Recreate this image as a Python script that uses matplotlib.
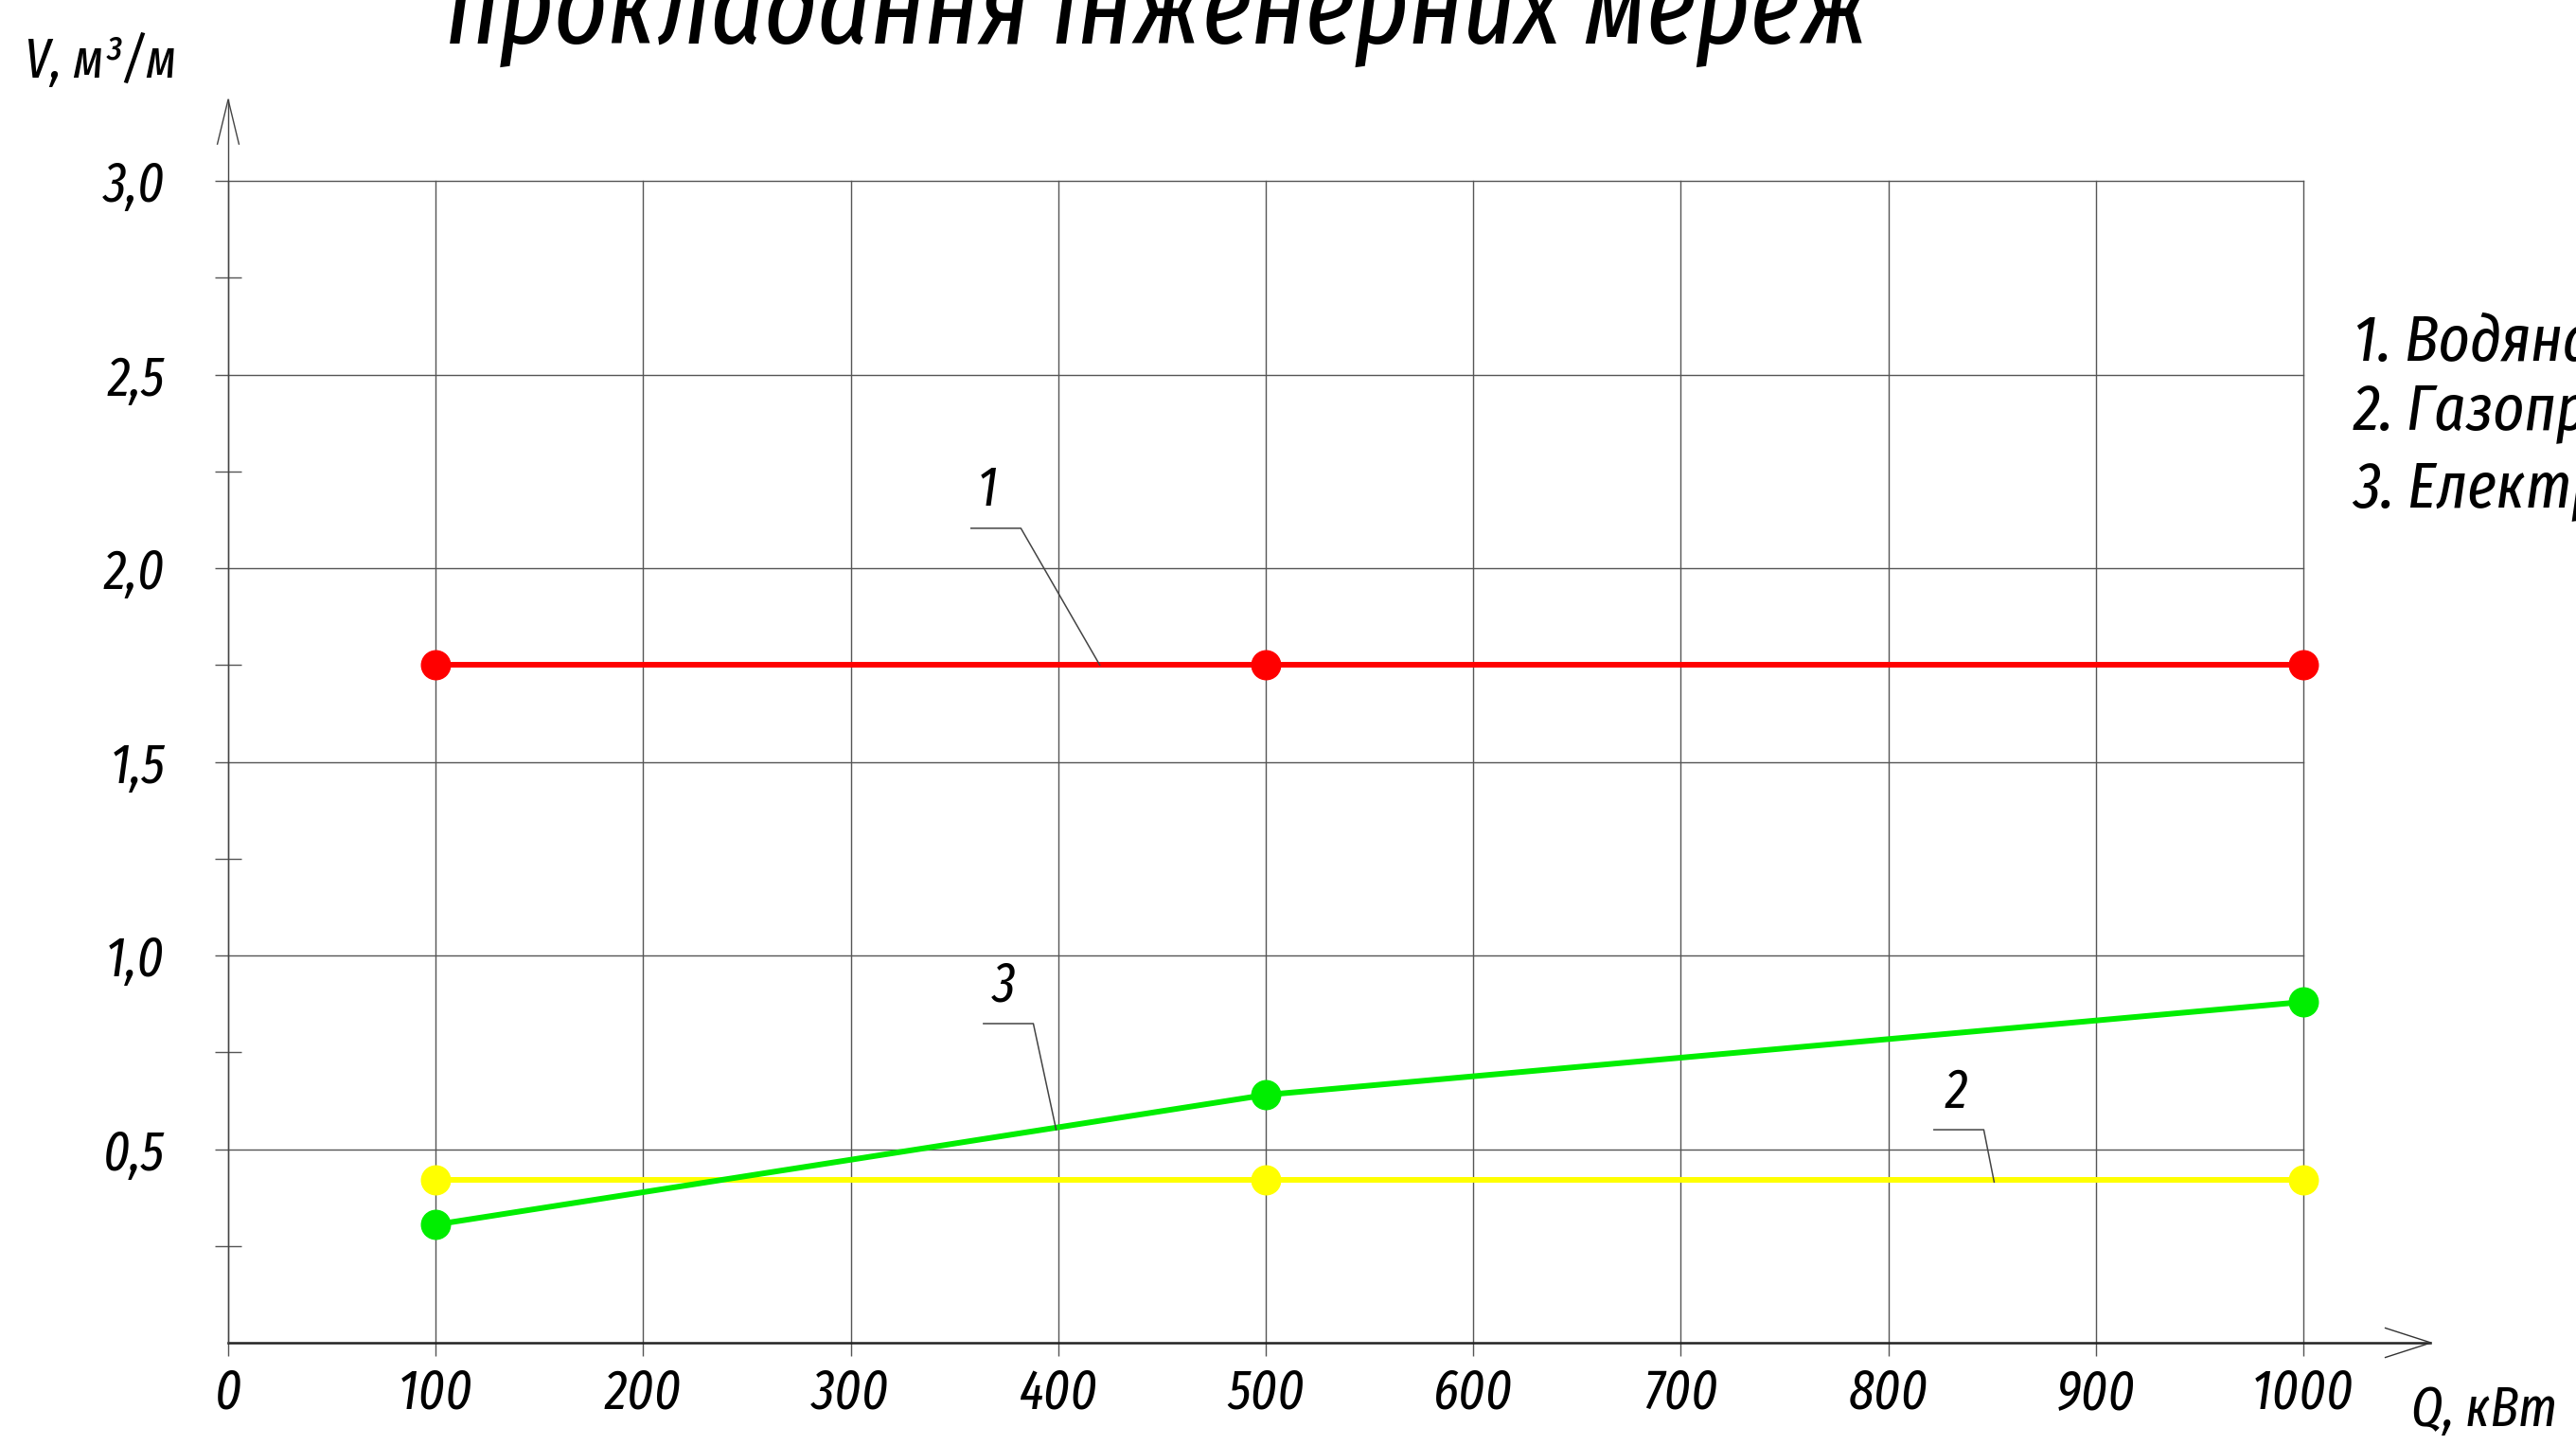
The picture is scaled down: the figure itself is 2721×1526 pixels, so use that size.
import numpy as np
import matplotlib
matplotlib.use('Agg')
import matplotlib.pyplot as plt

# values
q_points = [100, 500, 1000]
v_water = [1.75, 1.75, 1.75]
v_gas = [0.42, 0.42, 0.42]
v_elec = [0.305, 0.64, 0.88]

x_ticks = [0, 100, 200, 300, 400, 500, 600, 700, 800, 900, 1000]
x_ticklabels = ['0', '100', '200', '300', '400', '500', '600', '700', '800', '900', '1000']
y_ticks = [0.5, 1.0, 1.5, 2.0, 2.5, 3.0]
y_ticklabels = ['0,5', '1,0', '1,5', '2,0', '2,5', '3,0']

title_text = 'прокладання інженерних мереж'
legend_lines = ['1. Водяна теплова мережа', '2. Газопровід', '3. Електромережа']
series_colors = ['#ff0000', '#ffff00', '#00ee00']

plt.rcParams['font.family'] = ['Fira Sans Extra Condensed', 'DejaVu Sans']
plt.rcParams['font.style'] = 'italic'
plt.rcParams['font.weight'] = 'normal'

fig = plt.figure(figsize=(27.21, 15.26), dpi=100)
ax = fig.add_axes([241 / 2721, 108 / 1526, 2192 / 2721, 1227 / 1526])
ax.set_xlim(0, 1000)
ax.set_ylim(0, 3)
for s in ax.spines.values():
    s.set_visible(False)

# grid
grid_col = '#555555'
tick_fs = 42
ax.set_xticks(x_ticks)
ax.set_xticklabels(x_ticklabels, fontsize=tick_fs)
ax.set_yticks(y_ticks)
ax.set_yticklabels(y_ticklabels, fontsize=tick_fs)
ax.set_yticks([0.25, 0.75, 1.25, 1.75, 2.25, 2.75], minor=True)
ax.grid(True, which='major', color=grid_col, linewidth=1.0)
for gl in ax.get_xgridlines() + ax.get_ygridlines():
    gl.set_clip_on(False)
ax.tick_params(axis='x', which='major', direction='out', length=10, width=1.0,
               color=grid_col, pad=8)
ax.tick_params(axis='y', which='major', direction='out', length=10, width=1.0,
               color=grid_col, pad=38)
ax.tick_params(axis='y', which='minor', direction='inout', length=20, width=1.0,
               color=grid_col)

# axes with arrows
ax.plot([0, 1061], [0, 0], color='#222222', lw=1.8, clip_on=False, zorder=3)
ax.plot([1039.5, 1061.5, 1039.5], [0.038, 0, -0.038], color='#333333', lw=1.0,
        clip_on=False, zorder=3)
ax.plot([0, 0], [0, 3.21], color='#444444', lw=1.0, clip_on=False, zorder=3)
ax.plot([-5.2, 0, 5.2], [3.095, 3.21, 3.095], color='#444444', lw=1.0,
        clip_on=False, zorder=3)

# series
for yv, col in zip([v_water, v_gas, v_elec], series_colors):
    ax.plot(q_points, yv, color=col, lw=4.3, marker='o', markersize=22,
            clip_on=False, zorder=4)

# leader labels
leader_col = '#444444'
ax.plot([358, 382, 420], [2.103, 2.103, 1.75], color=leader_col, lw=1.1, zorder=5)
ax.text(366, 2.13, '1', fontsize=tick_fs, ha='center', va='bottom')
ax.plot([822, 846, 851], [0.55, 0.55, 0.415], color=leader_col, lw=1.1, zorder=5)
ax.text(833, 0.575, '2', fontsize=tick_fs, ha='center', va='bottom')
ax.plot([364, 388, 399], [0.824, 0.824, 0.55], color=leader_col, lw=1.1, zorder=5)
ax.text(374, 0.85, '3', fontsize=tick_fs, ha='center', va='bottom')

# axis names
fig.text(26 / 2721, 1 - 82 / 1526, 'V, м³/м', fontsize=tick_fs, va='baseline', ha='left')
fig.text(2547 / 2721, 1 - 1506 / 1526, 'Q, кВт', fontsize=tick_fs, va='baseline', ha='left')

# title (clipped by the top edge)
fig.text(1223 / 2721, 1 - 46 / 1526, title_text, fontsize=85, va='baseline', ha='center')

# legend text on the right
for txt, yb in zip(legend_lines, [380, 453, 535]):
    fig.text(2486 / 2721, 1 - yb / 1526, txt, fontsize=50, va='baseline', ha='left')

fig.savefig('out.png', dpi=100)
